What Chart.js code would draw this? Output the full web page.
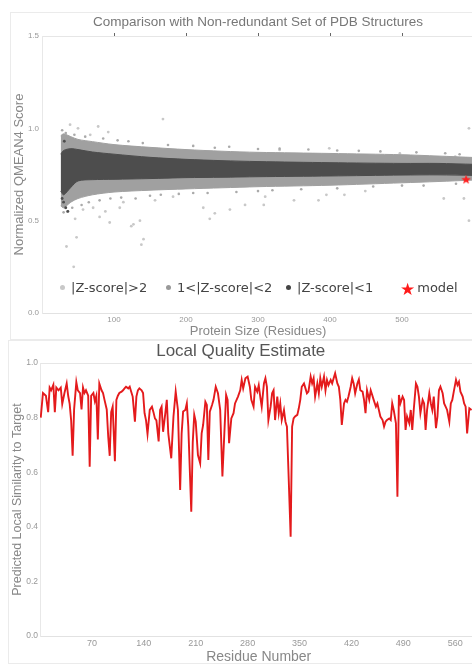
<!DOCTYPE html>
<html>
<head>
<title>QMEAN Comparison and Local Quality Estimate</title>
<script src="https://cdn.jsdelivr.net/npm/chart.js"></script>
<style>
  body { margin: 0; width: 472px; height: 664px; overflow: hidden; background: #fff; position: relative; }
  .frame { position: absolute; border: 1px solid #ebebeb; }
  canvas { position: absolute; }
  .legend { position: absolute; top: 280px; font-family: "DejaVu Sans", sans-serif; font-size: 13px; color: #444; line-height: 16px; white-space: nowrap; }
  .dot { display: inline-block; width: 5px; height: 5px; border-radius: 50%; vertical-align: middle; margin: 0 6px 2px 0; }
  .star { color: #ff1a1a; font-size: 17px; vertical-align: middle; margin-right: 2px; }
</style>
</head>
<body>
<div class="frame" style="left:10px;top:12px;width:480px;height:326px"></div>
<div class="frame" style="left:8px;top:340px;width:480px;height:322px"></div>
<canvas id="qmeanChart" width="480" height="345" style="left:0;top:0"></canvas>
<canvas id="localChart" width="480" height="330" style="left:4px;top:338px"></canvas>

<div class="legend" style="left:60px"><span class="dot" style="background:#c8c8c8"></span>|Z-score|&gt;2</div>
<div class="legend" style="left:166px"><span class="dot" style="background:#999"></span>1&lt;|Z-score|&lt;2</div>
<div class="legend" style="left:286px"><span class="dot" style="background:#444"></span>|Z-score|&lt;1</div>
<div class="legend" style="left:400px"><span class="star">&#9733;</span>model</div>

<script>
    // ---- top chart: QMEAN4 vs protein size ----
    const sizeTicks = [100, 200, 300, 400, 500];
    const scoreTicks = [0, 0.5, 1.0, 1.5];

    // dense bands (upper / lower edge at each size)
    const bandSizes = [26, 30, 40, 50, 70, 100, 150, 200, 250, 300, 400, 500, 550, 600];
    const midUpper  = [0.96, 0.97, 0.955, 0.94, 0.928, 0.912, 0.897, 0.885, 0.876, 0.87, 0.864, 0.857, 0.85, 0.842];
    const midLower  = [0.58, 0.57, 0.60, 0.62, 0.64, 0.655, 0.665, 0.672, 0.678, 0.684, 0.692, 0.705, 0.712, 0.72];
    const darkUpper = [0.86, 0.88, 0.89, 0.885, 0.872, 0.86, 0.843, 0.832, 0.825, 0.82, 0.814, 0.81, 0.81, 0.805];
    const darkLower = [0.66, 0.64, 0.68, 0.715, 0.722, 0.724, 0.728, 0.733, 0.735, 0.738, 0.742, 0.747, 0.748, 0.745];

    // single points outside the dense bands
    const midSizes  = [28, 33, 45, 60, 85, 105, 120, 140, 175, 210, 240, 260, 300, 330, 370, 410, 440, 470, 520, 560, 580,
                       30, 35, 42, 55, 65, 80, 95, 110, 130, 150, 165, 190, 210, 230, 270, 300, 320, 360, 410, 460, 500, 530, 575];
    const midScores = [0.99, 0.975, 0.965, 0.955, 0.945, 0.935, 0.93, 0.92, 0.91, 0.905, 0.895, 0.9, 0.888, 0.89, 0.885, 0.88, 0.878, 0.875, 0.87, 0.865, 0.86,
                       0.545, 0.55, 0.57, 0.585, 0.6, 0.61, 0.62, 0.625, 0.62, 0.635, 0.64, 0.645, 0.65, 0.65, 0.655, 0.66, 0.665, 0.67, 0.675, 0.685, 0.69, 0.69, 0.70];
    const lightSizes  = [34, 44, 48, 46, 57, 71, 80, 88, 94, 108, 113, 124, 127, 136, 138, 141, 157, 182, 224, 233, 240, 261, 282, 308, 310, 350, 384, 395, 420, 449, 558, 586, 593, 32,
                         39, 50, 67, 78, 92, 168, 330, 399, 497, 574, 593];
    const lightScores = [0.36, 0.25, 0.41, 0.51, 0.56, 0.57, 0.52, 0.55, 0.49, 0.57, 0.60, 0.47, 0.48, 0.50, 0.37, 0.40, 0.61, 0.63, 0.57, 0.51, 0.54, 0.56, 0.585, 0.585, 0.63, 0.61, 0.61, 0.64, 0.64, 0.66, 0.62, 0.62, 0.50, 0.57,
                         1.02, 1.0, 0.965, 1.01, 0.98, 1.05, 0.883, 0.892, 0.864, 0.846, 1.0];
    const darkSizes  = [28, 30, 33, 31, 36];
    const darkScores = [0.62, 0.60, 0.57, 0.93, 0.55];
    const modelSize  = [589];
    const modelScore = [0.724];

    // ---- bottom chart: local quality ----
    const residueTicks = [70, 140, 210, 280, 350, 420, 490, 560];
    const qualityTicks = [0, 0.2, 0.4, 0.6, 0.8, 1.0];
    const residueNumbers = [1, 4, 8, 11, 13, 15, 18, 20, 22, 25, 28, 30, 33, 36, 38, 40, 42, 44, 46, 49, 51, 54, 56, 58, 60, 62, 65, 67, 69, 72,
        74, 76, 78, 80, 83, 85, 87, 90, 92, 94, 96, 98, 101, 103, 105, 107, 110, 112, 114, 116, 119, 121, 123, 125, 128, 130, 132, 134, 137, 139,
        141, 143, 145, 148, 151, 153, 155, 157, 160, 162, 164, 166, 169, 171, 173, 177, 180, 183, 186, 189, 191, 193, 196, 198, 200, 204, 206, 208, 210, 213,
        216, 218, 220, 223, 225, 227, 229, 232, 234, 237, 240, 243, 246, 249, 251, 253, 255, 258, 261, 263, 267, 270, 272, 274, 277, 280, 283, 285, 288, 290,
        293, 295, 297, 299, 302, 304, 306, 308, 311, 313, 315, 317, 320, 322, 324, 326, 329, 331, 333, 335, 338, 340, 342, 344, 347, 349, 351, 353, 356, 358,
        360, 362, 365, 367, 369, 371, 374, 376, 378, 380, 383, 385, 387, 389, 392, 394, 396, 398, 401, 403, 405, 407, 410, 412, 414, 416, 419, 421, 423, 425,
        428, 430, 432, 435, 437, 439, 441, 444, 446, 448, 450, 453, 455, 457, 459, 462, 464, 466, 468, 471, 473, 475, 477, 480, 482, 484, 486, 489, 491, 493,
        495, 498, 500, 502, 504, 507, 509, 511, 513, 516, 518, 520, 522, 525, 527, 529, 531, 534, 536, 538, 540, 543, 545, 547, 549, 552, 554, 556, 558, 561,
        563, 565, 567, 570, 572, 574, 576, 579, 582];
    const localScores = [0.80, 0.89, 0.88, 0.82, 0.91, 0.90, 0.92, 0.82, 0.91, 0.90, 0.91, 0.85, 0.89, 0.925, 0.88, 0.85, 0.79, 0.66, 0.83, 0.93, 0.90, 0.89, 0.83, 0.91, 0.89, 0.90, 0.88, 0.62, 0.88, 0.89,
        0.86, 0.88, 0.72, 0.925, 0.90, 0.89, 0.865, 0.83, 0.73, 0.66, 0.82, 0.84, 0.64, 0.865, 0.88, 0.89, 0.895, 0.90, 0.907, 0.913, 0.907, 0.913, 0.895, 0.877, 0.785, 0.877, 0.90, 0.907, 0.90, 0.89,
        0.816, 0.79, 0.74, 0.828, 0.84, 0.82, 0.797, 0.79, 0.713, 0.828, 0.84, 0.748, 0.816, 0.865, 0.742, 0.651, 0.804, 0.895, 0.828, 0.535, 0.742, 0.822, 0.828, 0.852, 0.767, 0.455, 0.71, 0.81, 0.785, 0.663,
        0.633, 0.742, 0.773, 0.858, 0.846, 0.645, 0.822, 0.846, 0.865, 0.913, 0.889, 0.828, 0.584, 0.767, 0.883, 0.865, 0.706, 0.797, 0.816, 0.852, 0.877, 0.90, 0.938, 0.907, 0.944, 0.95, 0.913, 0.865, 0.84, 0.913,
        0.895, 0.919, 0.877, 0.84, 0.925, 0.944, 0.913, 0.791, 0.84, 0.889, 0.90, 0.791, 0.877, 0.816, 0.852, 0.791, 0.828, 0.785, 0.767, 0.608, 0.364, 0.767, 0.797, 0.804, 0.81, 0.834, 0.865, 0.913, 0.925, 0.907,
        0.889, 0.895, 0.95, 0.925, 0.944, 0.877, 0.925, 0.889, 0.944, 0.913, 0.95, 0.90, 0.938, 0.919, 0.938, 0.925, 0.944, 0.962, 0.925, 0.913, 0.865, 0.773, 0.852, 0.865, 0.858, 0.877, 0.913, 0.944, 0.925, 0.889,
        0.925, 0.94, 0.90, 0.895, 0.865, 0.816, 0.90, 0.865, 0.90, 0.883, 0.865, 0.84, 0.852, 0.828, 0.804, 0.791, 0.767, 0.785, 0.791, 0.797, 0.791, 0.852, 0.828, 0.779, 0.51, 0.883, 0.852, 0.877, 0.865, 0.755,
        0.804, 0.779, 0.828, 0.755, 0.828, 0.925, 0.913, 0.877, 0.816, 0.865, 0.852, 0.755, 0.828, 0.889, 0.852, 0.828, 0.877, 0.761, 0.804, 0.90, 0.913, 0.889, 0.852, 0.84, 0.828, 0.785, 0.852, 0.865, 0.895, 0.938,
        0.919, 0.931, 0.895, 0.877, 0.852, 0.84, 0.742, 0.834, 0.828];

    Chart.defaults.font.family = '"Liberation Sans", Arial, sans-serif';
    Chart.defaults.animation = false;

    const pts = (xs, ys) => xs.map((x, i) => ({ x: x, y: ys[i] }));
    const fixTicks = list => scale => { scale.ticks = list.map(v => ({ value: v })); };

    // filled red star used as the model marker
    function starImage(size, color) {
        const c = document.createElement('canvas');
        c.width = size; c.height = size;
        const g = c.getContext('2d');
        g.fillStyle = color;
        g.beginPath();
        for (let i = 0; i < 10; i++) {
            const r = i % 2 ? size * 0.21 : size / 2;
            const a = -Math.PI / 2 + i * Math.PI / 5;
            g.lineTo(size / 2 + r * Math.cos(a), size / 2 + r * Math.sin(a) + size * 0.05);
        }
        g.closePath();
        g.fill();
        return c;
    }

    const MID = '#a0a0a0', DARK = '#4d4d4d', LIGHT = '#c8c8c8';

    const band = (data, color, fill, order) => ({
        data: data, borderColor: color, borderWidth: 1, backgroundColor: color,
        pointRadius: 0, tension: 0.3, fill: fill, order: order
    });
    const dots = (data, color, order, r) => ({
        data: data, showLine: false, pointRadius: r, pointBackgroundColor: color,
        pointBorderWidth: 0, borderColor: color, order: order
    });

    new Chart(document.getElementById('qmeanChart'), {
        type: 'line',
        data: {
            datasets: [
                band(pts(bandSizes, midUpper), MID, '+1', 3),
                band(pts(bandSizes, midLower), MID, false, 3),
                band(pts(bandSizes, darkUpper), DARK, '+1', 2),
                band(pts(bandSizes, darkLower), DARK, false, 2),
                dots(pts(midSizes, midScores), '#aaaaaa', 4, 1.3),
                dots(pts(lightSizes, lightScores), LIGHT, 5, 1.4),
                dots(pts(darkSizes, darkScores), DARK, 1, 1.4),
                {
                    data: pts(modelSize, modelScore), showLine: false,
                    pointStyle: starImage(10, '#ff2020'), pointRadius: 5, order: 0
                }
            ]
        },
        options: {
            responsive: false,
            layout: { padding: { right: 6 } },
            plugins: {
                legend: { display: false },
                tooltip: { enabled: false },
                title: {
                    display: true, fullSize: false,
                    text: 'Comparison with Non-redundant Set of PDB Structures',
                    color: '#777', font: { size: 13.5, weight: 'normal' },
                    padding: { top: 13.9, bottom: 5.9 }
                }
            },
            scales: {
                x: {
                    type: 'linear', min: 0, max: 600,
                    afterBuildTicks: fixTicks(sizeTicks),
                    afterFit: s => { s.height = 32; },
                    grid: { display: false, drawTicks: false },
                    border: { color: '#e2e2e2' },
                    ticks: { color: '#999', font: { size: 8 }, padding: 2, maxRotation: 0 },
                    title: { display: true, text: 'Protein Size (Residues)', color: '#888',
                             font: { size: 13 }, padding: { top: 0, bottom: 6.2 } }
                },
                xTop: {
                    type: 'linear', position: 'top', min: 0, max: 600,
                    afterBuildTicks: fixTicks(sizeTicks),
                    afterFit: s => { s.height = 0; },
                    ticks: { display: false },
                    grid: { drawOnChartArea: false, drawTicks: true, tickLength: 3, color: '#666' },
                    border: { display: false }
                },
                y: {
                    min: 0, max: 1.5,
                    afterBuildTicks: fixTicks(scoreTicks),
                    afterFit: s => { s.width = 42; },
                    grid: { drawTicks: false, color: c => (c.tick && c.tick.value === 1.5) ? '#e6e6e6' : 'rgba(0,0,0,0)' },
                    border: { color: '#e8e8e8' },
                    ticks: { color: '#999', font: { size: 8 }, padding: 3, callback: v => v.toFixed(1) },
                    title: { display: true, text: 'Normalized QMEAN4 Score', color: '#888',
                             font: { size: 13 }, padding: { top: 11.2, bottom: 0 } }
                }
            }
        }
    });

    new Chart(document.getElementById('localChart'), {
        type: 'line',
        data: {
            datasets: [{
                data: pts(residueNumbers, localScores),
                borderColor: '#e41a1c', borderWidth: 1.9, pointRadius: 0, tension: 0, fill: false
            }]
        },
        options: {
            responsive: false,
            layout: { padding: { right: 6.5 } },
            plugins: {
                legend: { display: false },
                tooltip: { enabled: false },
                title: {
                    display: true, text: 'Local Quality Estimate',
                    color: '#555', font: { size: 17, weight: 'normal' },
                    padding: { top: 2.8, bottom: 1.8 }
                }
            },
            scales: {
                x: {
                    type: 'linear', min: 0, max: 590,
                    afterBuildTicks: fixTicks(residueTicks),
                    afterFit: s => { s.height = 32; },
                    grid: { display: false, drawTicks: false },
                    border: { color: '#e2e2e2' },
                    ticks: { color: '#999', font: { size: 9 }, padding: 2, maxRotation: 0 },
                    title: { display: true, text: 'Residue Number', color: '#888',
                             font: { size: 14 }, padding: { top: 0, bottom: 2.6 } }
                },
                y: {
                    min: 0, max: 1,
                    afterBuildTicks: fixTicks(qualityTicks),
                    afterFit: s => { s.width = 36; },
                    grid: { drawTicks: false, color: c => (c.tick && c.tick.value === 1) ? '#e6e6e6' : 'rgba(0,0,0,0)' },
                    border: { color: '#e8e8e8' },
                    ticks: { color: '#999', font: { size: 8.5 }, padding: 2, callback: v => v.toFixed(1) },
                    title: { display: true, text: 'Predicted Local Similarity to Target', color: '#888',
                             font: { size: 12.5 }, padding: { top: 6, bottom: 0 } }
                }
            }
        }
    });
</script>
</body>
</html>
